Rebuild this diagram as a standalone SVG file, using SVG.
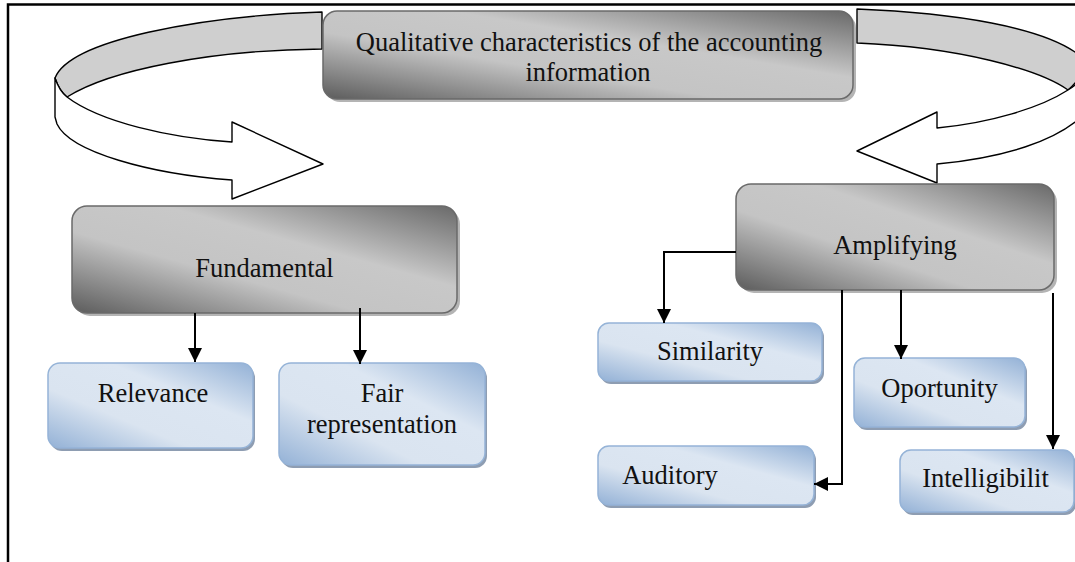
<svg xmlns="http://www.w3.org/2000/svg" width="1075" height="562" viewBox="0 0 1075 562">
<defs>
<linearGradient id="gGrey" x1="0" y1="1" x2="1" y2="0">
<stop offset="0" stop-color="#5c5c5c"/>
<stop offset="0.38" stop-color="#c4c4c4"/>
<stop offset="0.62" stop-color="#c8c8c8"/>
<stop offset="1" stop-color="#696969"/>
</linearGradient>
<linearGradient id="gBlue" x1="0" y1="1" x2="1" y2="0">
<stop offset="0" stop-color="#93b1d6"/>
<stop offset="0.35" stop-color="#dae4f0"/>
<stop offset="0.65" stop-color="#dce6f2"/>
<stop offset="1" stop-color="#93b1d6"/>
</linearGradient>
<marker id="arr" viewBox="0 0 14 14" refX="14" refY="7" markerWidth="14" markerHeight="14" markerUnits="userSpaceOnUse" orient="auto">
<path d="M0,0 L14,7 L0,14 Z" fill="#000"/>
</marker>
</defs>
<style>
.frame{stroke:#000;stroke-width:2.5;fill:none}
.rib{stroke:#000;stroke-width:1.4;stroke-linejoin:round}
.gbox{fill:url(#gGrey);stroke:#6a6a6a;stroke-width:1.5}
.gsh{fill:#b4b4b4}
.bbox{fill:url(#gBlue);stroke:#95b3d7;stroke-width:1.5}
.bsh{fill:#8e9db2}
.lbl{font-family:"Liberation Serif","Times New Roman",serif;font-size:26.5px;fill:#111;text-anchor:middle}
.con{stroke:#000;stroke-width:2;fill:none;marker-end:url(#arr)}
</style>
<rect width="1075" height="562" fill="#fff"/>
<path class="frame" d="M8,562 L8,4.5 L1075,4.5"/>

<g id="ribbons">
<path class="rib" fill="#cfcfcf" d="M322,12 C200,16 70,40 55,78 C58,87 62,93 67,97 C110,70 210,50 322,49 Z"/>
<path class="rib" fill="#fff" d="M55,78 C58,87 62,93 67,97 C100,122 170,138 232,142 L232,122 L323,164 L232,199 L232,180 C150,174 70,152 57,124 L55,117 Z"/>
<path class="rib" fill="#cfcfcf" d="M857,9 C960,13 1040,28 1075,52 C1090,64 1080,80 1068,90 C1040,70 960,47 857,43 Z"/>
<path class="rib" fill="#fff" d="M1068,90 C1040,108 990,123 937,128 L937,112 L857,151 L937,183 L937,164 C1000,158 1060,142 1088,110 L1090,66 C1085,78 1076,85 1068,90 Z"/>
</g>

<g id="node-top">
<rect class="gsh" x="326" y="14" width="530" height="88" rx="14"/>
<rect class="gbox" x="323" y="11" width="530" height="88" rx="14"/>
<text class="lbl" x="589" y="51">Qualitative characteristics of the accounting</text>
<text class="lbl" x="588" y="80.5">information</text>
</g>

<g id="node-fundamental">
<rect class="gsh" x="75" y="209" width="385" height="107" rx="15"/>
<rect class="gbox" x="72" y="206" width="385" height="107" rx="15"/>
<text class="lbl" x="264.5" y="277">Fundamental</text>
</g>

<g id="node-amplifying">
<rect class="gsh" x="739" y="187" width="318" height="106" rx="15"/>
<rect class="gbox" x="736" y="184" width="318" height="106" rx="15"/>
<text class="lbl" x="895" y="254">Amplifying</text>
</g>

<g id="node-relevance">
<rect class="bsh" x="50" y="366" width="205" height="85" rx="12"/>
<rect class="bbox" x="48" y="363" width="205" height="85" rx="12"/>
<text class="lbl" x="153" y="402">Relevance</text>
</g>

<g id="node-fair">
<rect class="bsh" x="281" y="366" width="206" height="102" rx="12"/>
<rect class="bbox" x="279" y="363" width="206" height="102" rx="12"/>
<text class="lbl" x="382" y="402">Fair</text>
<text class="lbl" x="382" y="433">representation</text>
</g>

<g id="node-similarity">
<rect class="bsh" x="600" y="326" width="224" height="58" rx="11"/>
<rect class="bbox" x="598" y="323" width="224" height="58" rx="11"/>
<text class="lbl" x="710" y="360">Similarity</text>
</g>

<g id="node-oportunity">
<rect class="bsh" x="856" y="361" width="171" height="69" rx="11"/>
<rect class="bbox" x="854" y="358" width="171" height="69" rx="11"/>
<text class="lbl" x="939.5" y="397">Oportunity</text>
</g>

<g id="node-auditory">
<rect class="bsh" x="600" y="449" width="216" height="59" rx="11"/>
<rect class="bbox" x="598" y="446" width="216" height="59" rx="11"/>
<text class="lbl" x="670" y="484">Auditory</text>
</g>

<g id="node-intelligibilit">
<rect class="bsh" x="902" y="453" width="174" height="62" rx="11"/>
<rect class="bbox" x="900" y="450" width="174" height="62" rx="11"/>
<text class="lbl" x="985.5" y="487">Intelligibilit</text>
</g>

<g id="connectors">
<path class="con" d="M195,313 L195,362"/>
<path class="con" d="M360,308 L360,364"/>
<path class="con" d="M736,252 L664,252 L664,323"/>
<path class="con" d="M842,290 L842,484 L814,484"/>
<path class="con" d="M901,290 L901,359"/>
<path class="con" d="M1053,293 L1053,449"/>
</g>
</svg>
